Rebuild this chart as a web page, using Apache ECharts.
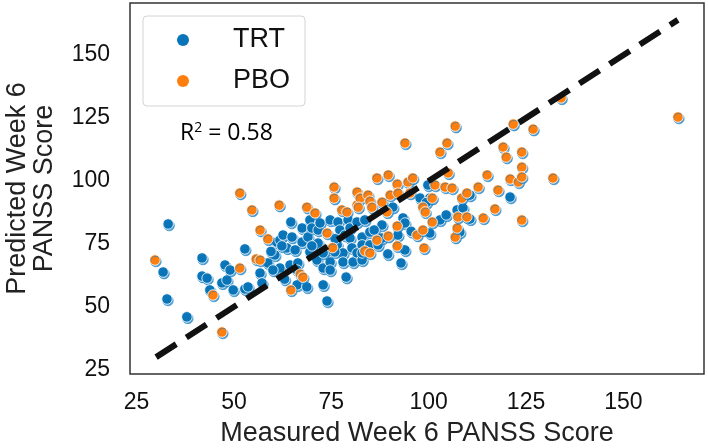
<!DOCTYPE html>
<html>
<head>
<meta charset="utf-8">
<script src="https://cdn.jsdelivr.net/npm/echarts@6/dist/echarts.min.js"></script>
<style>
  html, body { margin: 0; padding: 0; background: #fff; }
  #chart { width: 708px; height: 448px; }
</style>
</head>
<body>
<div id="chart"></div>
<script>
// measured vs predicted week 6 PANSS
var trtData = [
  [33.1, 82.9], [31.8, 63.8], [32.8, 53.1], [37.9, 46.0], [41.8, 69.4], [41.8, 62.2], [43.1, 61.4],
  [43.8, 56.7], [46.9, 59.5], [48.2, 60.6], [47.7, 66.6], [49.0, 64.6], [49.8, 56.7], [52.8, 73.0],
  [52.8, 57.1], [53.6, 57.9], [56.7, 63.4], [57.2, 59.5], [58.7, 67.4], [60.5, 70.6], [61.0, 75.7],
  [61.8, 65.4], [61.8, 76.5], [62.6, 78.5], [63.6, 73.4], [64.4, 66.6], [64.6, 83.7], [64.9, 77.7],
  [65.7, 72.6], [66.2, 58.7], [66.4, 67.4], [67.5, 81.3], [67.5, 75.7], [68.7, 57.9], [69.0, 77.7],
  [69.5, 84.5], [69.5, 71.8], [70.0, 81.3], [71.3, 68.6], [71.6, 75.3], [71.6, 80.5], [72.9, 65.4],
  [72.9, 58.7], [73.9, 72.6], [73.9, 52.3], [74.7, 84.5], [74.7, 67.8], [76.7, 83.7], [77.2, 80.5],
  [76.5, 74.6], [78.0, 71.4], [78.0, 67.8], [78.5, 78.5], [78.8, 61.8], [79.3, 84.5], [79.8, 81.3],
  [79.8, 77.3], [80.3, 73.4], [80.6, 67.8], [81.6, 83.7], [81.6, 71.4], [82.9, 77.7], [82.9, 74.6],
  [82.9, 68.6], [83.6, 84.5], [84.9, 79.7], [84.9, 74.6], [87.0, 74.6], [88.0, 82.5], [88.0, 77.3],
  [90.8, 89.6], [92.1, 78.5], [93.4, 85.3], [93.9, 83.3], [93.9, 72.6], [92.9, 67.4], [97.8, 93.2],
  [99.8, 98.4], [100.3, 93.2], [100.3, 79.3], [102.9, 84.5], [107.3, 88.5], [108.0, 79.7], [108.8, 89.3],
  [110.6, 94.4], [110.6, 84.9], [120.9, 93.6], [74.7, 64.6], [75.9, 71.8], [72.1, 83.3], [60.0, 64.6],
  [66.2, 64.6], [72.9, 71.4], [82.9, 71.4], [62.3, 74.2], [70.0, 74.2], [59.5, 72.0], [63.0, 61.0],
  [76.0, 77.0], [86.0, 80.5], [95.5, 80.0], [89.5, 71.0], [99.4, 91.4], [104.5, 86.5]
]
var pboData = [
  [29.7, 68.6], [46.9, 40.0], [44.6, 54.7], [51.5, 65.4], [51.5, 95.2], [54.6, 88.5], [56.7, 80.5],
  [58.7, 77.0], [55.7, 69.0], [56.7, 68.6], [61.6, 90.4], [64.6, 56.7], [67.0, 63.0], [67.7, 61.8],
  [68.7, 89.6], [70.8, 87.3], [73.9, 79.3], [75.3, 73.5], [75.7, 97.6], [75.7, 93.2], [77.7, 88.5],
  [79.0, 87.7], [81.6, 95.6], [81.6, 90.4], [82.4, 93.2], [84.4, 94.4], [84.9, 92.0], [81.9, 89.6],
  [85.4, 89.6], [86.7, 101.2], [89.6, 102.4], [91.9, 98.8], [94.7, 99.6], [95.9, 101.2], [88.0, 91.6],
  [90.1, 94.4], [92.1, 95.2], [89.3, 87.7], [83.6, 72.2], [84.9, 71.4], [86.7, 76.5], [89.6, 78.1],
  [91.9, 82.1], [91.9, 74.2], [93.9, 115.1], [97.0, 78.5], [98.5, 89.6], [99.1, 87.7], [98.5, 80.5],
  [98.8, 73.4], [100.9, 93.2], [100.9, 83.7], [101.6, 98.4], [102.9, 111.5], [104.2, 97.6], [104.7, 115.1],
  [105.0, 103.2], [106.0, 97.2], [106.8, 121.8], [106.8, 77.7], [107.3, 81.3], [107.5, 85.7], [108.5, 93.2],
  [109.8, 95.2], [109.8, 85.7], [112.7, 97.6], [114.0, 85.3], [115.0, 102.4], [117.0, 88.9], [117.8, 96.4],
  [119.1, 113.5], [119.9, 109.5], [120.9, 100.8], [121.7, 122.6], [123.0, 99.6], [123.9, 111.5], [123.9, 105.5],
  [123.9, 101.6], [123.9, 84.5], [126.8, 120.6], [131.9, 101.2], [134.0, 133.0], [164.0, 125.4], [95.2, 95.2]
]
var identityLine = [[30, 30], [164, 164]]
var xTicks = [25, 50, 75, 100, 125, 150]
var yTicks = [25, 50, 75, 100, 125, 150]
var axisMin = 23.3
var axisMax = 170.7

var blue = '#0a74b8'
var orange = '#ff7f0e'
var font = '"Liberation Sans", Arial, sans-serif'

function pointStyle (color) {
  return {
    color: color,
    opacity: 1,
    borderColor: '#fff',
    borderWidth: 0.8,
    shadowColor: 'rgba(20, 125, 195, 0.7)',
    shadowOffsetX: 1,
    shadowOffsetY: 1.6,
    shadowBlur: 0.5
  }
}

var myChart = echarts.init(document.getElementById('chart'), null, {renderer: 'canvas'})
var option = {
  animation: false,
  backgroundColor: '#fff',
  grid: {
    left: 130,
    right: 4,
    top: 3,
    bottom: 74,
    outerBoundsMode: 'none',
    containLabel: false,
    show: true,
    borderColor: '#333',
    borderWidth: 1.5
  },
  legend: {
    orient: 'vertical',
    left: 143,
    top: 16,
    padding: [10, 15, 11, 34],
    itemGap: 13,
    itemWidth: 24,
    itemHeight: 12,
    icon: 'circle',
    backgroundColor: '#fff',
    borderColor: '#d4d4d4',
    borderWidth: 1,
    borderRadius: 4,
    itemStyle: {opacity: 1, borderWidth: 0, shadowBlur: 0, shadowOffsetX: 0, shadowOffsetY: 0, shadowColor: 'transparent'},
    textStyle: {fontFamily: font, fontSize: 27, lineHeight: 28, color: '#111', padding: [0, 0, 0, 33]},
    data: ['TRT', 'PBO']
  },
  xAxis: {
    type: 'value',
    min: axisMin,
    max: axisMax,
    name: 'Measured Week 6 PANSS Score',
    nameLocation: 'middle',
    nameGap: 46,
    nameTextStyle: {fontFamily: font, fontSize: 27, color: '#222'},
    axisLine: {show: false},
    axisTick: {show: false},
    splitLine: {show: false},
    axisLabel: {customValues: xTicks, fontFamily: font, fontSize: 23, color: '#111', margin: 17}
  },
  yAxis: {
    type: 'value',
    min: axisMin,
    max: axisMax,
    name: 'Predicted Week 6\nPANSS Score',
    nameLocation: 'middle',
    nameRotate: 90,
    nameGap: 72,
    nameTextStyle: {fontFamily: font, fontSize: 27, lineHeight: 27, color: '#222'},
    axisLine: {show: false},
    axisTick: {show: false},
    splitLine: {show: false},
    axisLabel: {customValues: yTicks, fontFamily: font, fontSize: 23, color: '#111', margin: 20}
  },
  graphic: [{
    type: 'text',
    left: 180,
    top: 121,
    style: {
      rich: {
        base: {fontFamily: '"Open Sans", sans-serif', fontSize: 23, fill: '#000'},
        sup: {fontFamily: '"Open Sans", sans-serif', fontSize: 14, fill: '#000', verticalAlign: 'top', padding: [0, 0, 10, 0]}
      },
      text: '{base|R}{sup|2}{base| = 0.58}'
    }
  }],
  series: [
    {
      name: 'TRT',
      type: 'scatter',
      symbol: 'circle',
      symbolSize: 10.5,
      data: trtData,
      itemStyle: pointStyle(blue),
      z: 2
    },
    {
      name: 'PBO',
      type: 'scatter',
      symbol: 'circle',
      symbolSize: 10.5,
      data: pboData,
      itemStyle: pointStyle(orange),
      z: 3
    },
    {
      name: 'identity',
      type: 'line',
      data: identityLine,
      symbol: 'none',
      silent: true,
      lineStyle: {color: '#111', width: 6, type: [24, 12], cap: 'butt'},
      z: 5
    }
  ]
}
myChart.setOption(option, true)
</script>
</body>
</html>
